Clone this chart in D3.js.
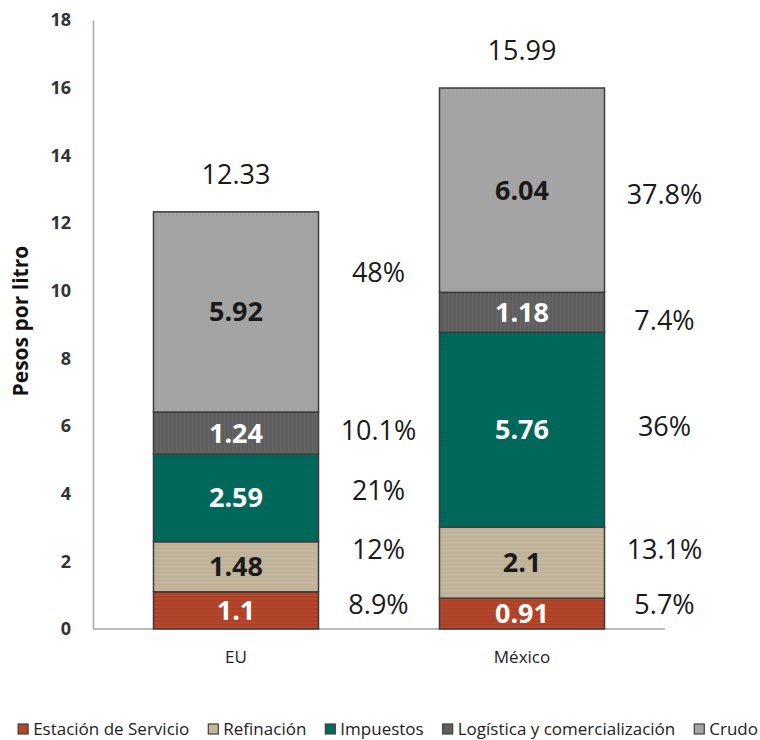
<!DOCTYPE html>
<html>
<head>
<meta charset="utf-8">
<script src="https://cdn.jsdelivr.net/npm/d3@7"></script>
<style>
  body { margin: 0; background: #fff; }
  svg { display: block; font-family: "Open Sans", sans-serif; }
</style>
</head>
<body>
<div id="chart"></div>
<script>
// Data
const countries = ["EU", "México"];
const series = ["Estación de Servicio", "Refinación", "Impuestos", "Logística y comercialización", "Crudo"];
const euValues = [1.1, 1.48, 2.59, 1.24, 5.92];
const mxValues = [0.91, 2.1, 5.76, 1.18, 6.04];
const totals = [12.33, 15.99];
const euPct = ["8.9%", "12%", "21%", "10.1%", "48%"];
const mxPct = ["5.7%", "13.1%", "36%", "7.4%", "37.8%"];
const yTicks = [0, 2, 4, 6, 8, 10, 12, 14, 16, 18];

// where the percentage labels sit (axis units), as placed in the original
const euPctAt = [0.71, 2.34, 4.08, 5.88, 10.55];
const mxPctAt = [0.71, 2.36, 5.97, 9.13, 12.83];

const colors = ["#b4462b", "#c4b59d", "#00695b", "#5e5e5e", "#a5a5a5"];
const labelColors = ["#fff", "#1a1a1a", "#fff", "#fff", "#1a1a1a"];

const W = 760, H = 740;
const svg = d3.select("#chart").append("svg")
    .attr("width", W)
    .attr("height", H);

// textures similar to the original fills
const defs = svg.append("defs");
function pattern(id, base, stripe, vertical) {
    const p = defs.append("pattern")
        .attr("id", id)
        .attr("patternUnits", "userSpaceOnUse")
        .attr("width", 4).attr("height", 4);
    p.append("rect").attr("width", 4).attr("height", 4).attr("fill", base);
    if (vertical) p.append("rect").attr("width", 1.5).attr("height", 4).attr("fill", stripe);
    else p.append("rect").attr("width", 4).attr("height", 1.5).attr("fill", stripe);
}
pattern("p0", colors[0], "#ab4027", false);
pattern("p1", colors[1], "#bfb098", false);
pattern("p2", colors[2], "#00655a", false);
pattern("p3", colors[3], "#666666", true);
pattern("p4", colors[4], "#a2a2a2", true);

const x = d3.scaleBand()
    .domain(countries)
    .range([93, 665])
    .paddingInner(0.423)
    .paddingOuter(0.2115);

const y = d3.scaleLinear()
    .domain([0, 18])
    .range([629, 20]);

// build rows for stacking
const rows = countries.map((c, i) => {
    const vals = i === 0 ? euValues : mxValues;
    const row = { country: c };
    series.forEach((s, j) => row[s] = vals[j]);
    return row;
});
const stacked = d3.stack().keys(series)(rows);

// Y axis
const yAxis = svg.append("g")
    .attr("transform", "translate(93,0)")
    .call(d3.axisLeft(y).tickValues(yTicks).tickSize(0).tickPadding(22));
yAxis.select(".domain").attr("stroke", "#a6a6a6").attr("stroke-width", 1.5);
yAxis.selectAll("text")
    .attr("font-family", "Open Sans, sans-serif")
    .attr("font-size", 18)
    .attr("font-weight", "bold")
    .attr("fill", "#333");

// baseline
svg.append("line")
    .attr("x1", 93).attr("x2", 665)
    .attr("y1", y(0)).attr("y2", y(0))
    .attr("stroke", "#a6a6a6")
    .attr("stroke-width", 1.5);

// X axis labels
const xAxis = svg.append("g")
    .attr("transform", `translate(0,${y(0)})`)
    .call(d3.axisBottom(x).tickSize(0).tickPadding(22));
xAxis.select(".domain").remove();
xAxis.selectAll("text")
    .attr("font-family", "Open Sans, sans-serif")
    .attr("font-size", 17)
    .attr("fill", "#222");

// Y title
svg.append("text")
    .attr("transform", `translate(28,${y(9.1)}) rotate(-90)`)
    .attr("text-anchor", "middle")
    .attr("font-size", 21)
    .attr("font-weight", "bold")
    .attr("fill", "#111")
    .text("Pesos por litro");

// Bars
const layers = svg.selectAll(".layer")
    .data(stacked)
    .enter().append("g")
    .attr("class", "layer");

layers.selectAll("rect")
    .data((d, i) => d.map(v => ({ v, i })))
    .enter().append("rect")
    .attr("x", d => x(d.v.data.country))
    .attr("y", d => y(d.v[1]))
    .attr("width", x.bandwidth())
    .attr("height", d => y(d.v[0]) - y(d.v[1]))
    .attr("fill", d => `url(#p${d.i})`)
    .attr("stroke", "#3c3c3c")
    .attr("stroke-width", 1.5);

// value labels inside segments
layers.selectAll(".val")
    .data((d, i) => d.map(v => ({ v, i })))
    .enter().append("text")
    .attr("x", d => x(d.v.data.country) + x.bandwidth() / 2)
    .attr("y", d => y((d.v[0] + d.v[1]) / 2))
    .attr("dy", "0.35em")
    .attr("text-anchor", "middle")
    .attr("font-size", 27)
    .attr("font-weight", "bold")
    .attr("fill", d => labelColors[d.i])
    .text(d => d.v.data[series[d.i]]);

// totals
svg.selectAll(".total")
    .data(totals)
    .enter().append("text")
    .attr("x", (d, i) => x(countries[i]) + x.bandwidth() / 2)
    .attr("y", d => y(d) - 37)
    .attr("dy", "0.35em")
    .attr("text-anchor", "middle")
    .attr("font-size", 27)
    .attr("fill", "#1a1a1a")
    .text(d => d);

// percentage labels
[[euPct, euPctAt], [mxPct, mxPctAt]].forEach(([pcts, at], i) => {
    svg.selectAll(".pct" + i)
        .data(pcts)
        .enter().append("text")
        .attr("x", x(countries[i]) + x.bandwidth() + 60)
        .attr("y", (d, j) => y(at[j]))
        .attr("dy", "0.35em")
        .attr("text-anchor", "middle")
        .attr("font-size", 27)
        .attr("fill", "#1a1a1a")
        .text(d => d);
});

// Legend, one row along the bottom
const legend = svg.append("g").attr("transform", "translate(0,729)");
const items = legend.selectAll(".item")
    .data(series)
    .enter().append("g")
    .attr("class", "item");
items.append("rect")
    .attr("y", -5)
    .attr("width", 10).attr("height", 10)
    .attr("fill", (d, i) => colors[i])
    .attr("stroke", "#404040")
    .attr("stroke-width", 1.2);
items.append("text")
    .attr("x", 15)
    .attr("dy", "0.35em")
    .attr("font-size", 17)
    .attr("fill", "#222")
    .text(d => d);

let pos = 0;
const offsets = [];
items.each(function () {
    offsets.push(pos);
    pos += this.getBBox().width + 19;
});
const legendW = pos - 19;
const start = Math.max(2, (W - 2 - legendW));
items.attr("transform", (d, i) => `translate(${start + offsets[i]},0)`);
</script>
</body>
</html>
